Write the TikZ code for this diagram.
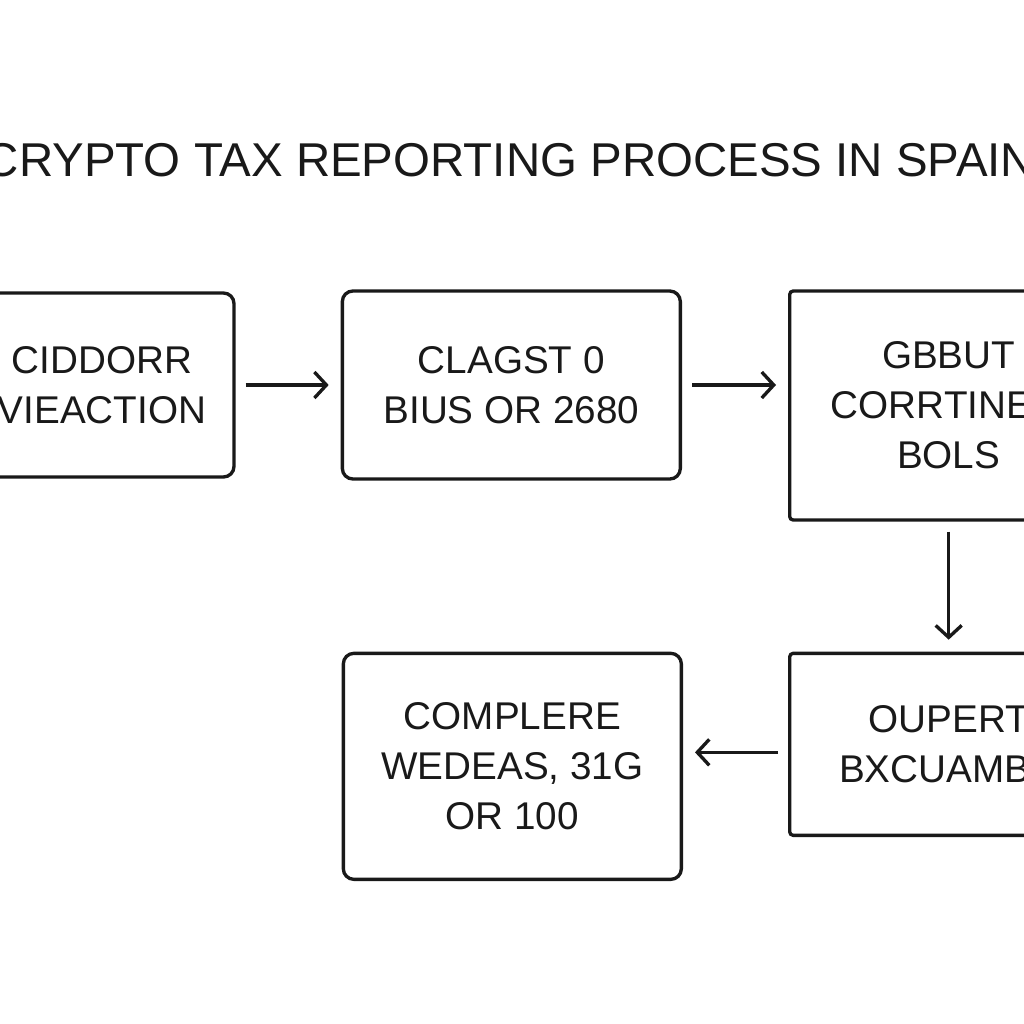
\documentclass[tikz,border=0pt]{standalone}
\usepackage{fontspec}
\setmainfont{Liberation Sans}
\usepackage{xcolor}
\usepackage{tikz}
\usetikzlibrary{arrows.meta,positioning}
\definecolor{ink}{RGB}{25,25,25}

\begin{document}
\begin{tikzpicture}[
  node distance=1.05cm,
  box/.style={draw=ink,line width=0.95pt,rounded corners=3pt,align=center,text=ink,font=\fontsize{11}{14.2}\selectfont,inner sep=0pt},
  sbox/.style={box,rounded corners=1pt},
  ar/.style={draw=ink,line width=0.95pt,-{Straight Barb[length=1.2mm,width=2.6mm]},shorten <=0.1cm,shorten >=0.12cm}
]
\useasboundingbox (0,0) rectangle (10.24,-10.24);
\clip (0,0) rectangle (10.24,-10.24);
\node[text=ink,font=\fontsize{13.5}{16}\selectfont] (title) at (5.10,-1.60) {CRYPTO TAX REPORTING PROCESS IN SPAIN};
\node[box,minimum width=2.64cm,minimum height=1.84cm] (b1) at (1.02,-3.85) {CIDDORR\\VIEACTION};
\node[box,minimum width=3.38cm,minimum height=1.88cm,right=of b1] (b2) {CLAGST 0\\BIUS OR 2680};
\node[sbox,minimum width=3.18cm,minimum height=2.29cm,right=1.06cm of b2.north east,anchor=north west] (b3) {GBBUT\\CORRTINE T\\BOLS};
\node[sbox,minimum width=3.18cm,minimum height=1.82cm,below=1.30cm of b3] (b4) {OUPERT\\BXCUAMBC};
\node[box,minimum width=3.38cm,minimum height=2.26cm,left=1.05cm of b4.north west,anchor=north east] (b5) {COMPLERE\\WEDEAS, 31G\\OR 100};
\draw[ar] (b1.east) -- (b1.east -| b2.west);
\draw[ar] (b2.east) -- (b2.east -| b3.west);
\draw[ar] (b3) -- (b4);
\draw[ar] ([yshift=-0.08cm]b4.west) -- ([yshift=-0.08cm]b4.west -| b5.east);
\end{tikzpicture}
\end{document}
